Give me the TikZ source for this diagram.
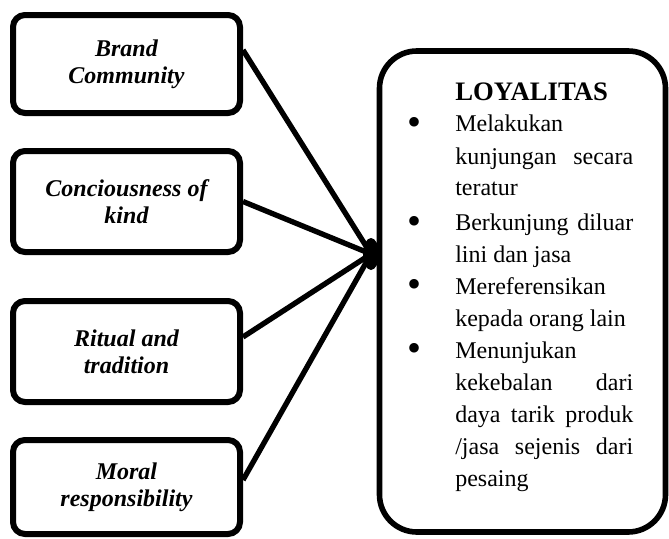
\documentclass[tikz,border=0pt]{standalone}
\usepackage{fontspec}
\setmainfont{Liberation Serif}
\usepackage{tikz}
\usetikzlibrary{positioning,shapes.geometric}
\newlength{\kolom}
\setlength{\kolom}{133.5pt}
\newcommand{\butir}{\raisebox{-2.5pt}{\fontsize{30}{24}\selectfont\textbullet}}

\begin{document}
\begin{tikzpicture}[x=0.75pt, y=-0.75pt,
  kotak/.style={draw, line width=4.5pt, rounded corners=9pt, minimum width=170.25pt, align=center, font=\fontsize{18}{20.25}\selectfont\bfseries\itshape},
  besar/.style={draw, line width=4.2pt, rounded corners=28pt, minimum width=214.5pt, minimum height=360.75pt},
  garis/.style={line width=4pt}
]
\useasboundingbox (0,0) rectangle (669,539);

\node[kotak, minimum height=73.5pt] (brand) at (126.5,64) {Brand\\Community};
\node[kotak, minimum height=75.75pt] (kind) at (126.5,201.5) {Conciousness of\\kind};
\node[kotak, minimum height=75.75pt] (ritual) at (126.5,351.5) {Ritual and\\tradition};
\node[kotak, minimum height=70.5pt] (moral) at (126.5,487) {Moral\\responsibility};

\node[besar] (loyal) at (522.5,291.5) {};
\node[anchor=base west, inner sep=0pt, font=\fontsize{18}{24}\selectfont] (isi) at (407,100) {%
\begin{tabular}[t]{@{}p{36pt}@{}p{\kolom}@{}}
 & {\fontsize{20}{24}\selectfont\textbf{LOYALITAS}}\\
\butir & Melakukan\\
 & \makebox[\kolom][s]{kunjungan\hfill secara}\\
 & teratur\\[2pt]
\butir & \makebox[\kolom][s]{Berkunjung\hfill diluar}\\
 & lini dan jasa\\
\butir & Mereferensikan\\
 & kepada orang lain\\
\butir & Menunjukan\\
 & \makebox[\kolom][s]{kekebalan\hfill dari}\\
 & \makebox[\kolom][s]{daya\hfill tarik\hfill produk}\\
 & \makebox[\kolom][s]{/jasa\hfill sejenis\hfill dari}\\
 & pesaing
\end{tabular}};

\node[ellipse, fill, inner sep=0pt, minimum width=12pt, minimum height=24pt] (hub) at (371,254) {};

\draw[garis] ([yshift=10.5pt]brand.east) -- (hub.center);
\draw[garis] (kind.east) -- (hub.center);
\draw[garis] ([yshift=10.9pt]ritual.east) -- (hub.center);
\draw[garis] ([yshift=5.25pt]moral.east) -- (hub.center);

\end{tikzpicture}
\end{document}
